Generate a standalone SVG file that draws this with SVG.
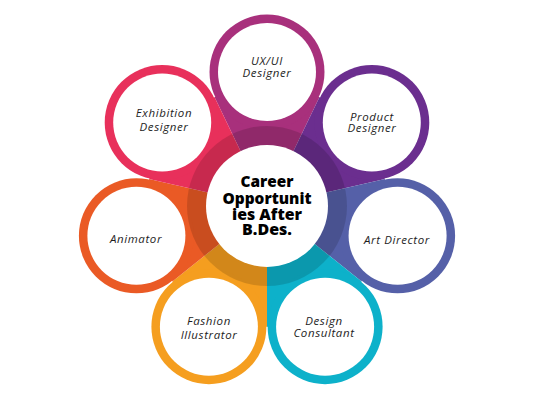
<svg xmlns="http://www.w3.org/2000/svg" width="534" height="400" viewBox="0 0 534 400">
<style>
.lbl{font-family:"Open Sans","Liberation Sans",sans-serif;font-style:italic;font-size:11.5px;letter-spacing:0.6px;fill:#1e1e1e;text-anchor:middle}
.hub{font-family:"Open Sans","Liberation Sans",sans-serif;font-weight:800;font-size:15px;fill:#000;text-anchor:middle}
.inner{fill:#fff}
</style>
<rect width="534" height="400" fill="#fff"/>
<g id="petals">
<path d="M267,206 L214.5,97 L319.5,97 Z" fill="#a8307c"/>
<path d="M267,206 L319.5,97 L385,179.1 Z" fill="#6b2e8f"/>
<path d="M267,206 L385,179.1 L361.6,281.4 Z" fill="#5560a8"/>
<path d="M267,206 L361.6,281.4 L267,327 Z" fill="#0db1ca"/>
<path d="M267,206 L267,327 L172.4,281.4 Z" fill="#f59e1f"/>
<path d="M267,206 L172.4,281.4 L149,179.1 Z" fill="#ea5a25"/>
<path d="M267,206 L149,179.1 L214.5,97 Z" fill="#e8305b"/>
</g>
<g id="node-uxui">
<circle cx="267" cy="72" r="57.5" fill="#a8307c"/>
<circle class="inner" cx="267" cy="72" r="49"/>
<text class="lbl" x="267" y="65">UX/UI</text>
<text class="lbl" x="267" y="77">Designer</text>
</g>
<g id="node-product">
<circle cx="371.8" cy="122.5" r="57.5" fill="#6b2e8f"/>
<circle class="inner" cx="371.8" cy="122.5" r="49"/>
<text class="lbl" x="372" y="120.5">Product</text>
<text class="lbl" x="372" y="132">Designer</text>
</g>
<g id="node-art">
<circle cx="397.6" cy="235.8" r="57.5" fill="#5560a8"/>
<circle class="inner" cx="397.6" cy="235.8" r="49"/>
<text class="lbl" x="397" y="244">Art Director</text>
</g>
<g id="node-design">
<circle cx="325.1" cy="326.7" r="57.5" fill="#0db1ca"/>
<circle class="inner" cx="325.1" cy="326.7" r="49"/>
<text class="lbl" x="324" y="324.5">Design</text>
<text class="lbl" x="324" y="337">Consultant</text>
</g>
<g id="node-fashion">
<circle cx="208.9" cy="326.7" r="57.5" fill="#f59e1f"/>
<circle class="inner" cx="208.9" cy="326.7" r="49"/>
<text class="lbl" x="209" y="325">Fashion</text>
<text class="lbl" x="209" y="339">Illustrator</text>
</g>
<g id="node-animator">
<circle cx="136.4" cy="235.8" r="57.5" fill="#ea5a25"/>
<circle class="inner" cx="136.4" cy="235.8" r="49"/>
<text class="lbl" x="136" y="243">Animator</text>
</g>
<g id="node-exhibition">
<circle cx="162.2" cy="122.5" r="57.5" fill="#e8305b"/>
<circle class="inner" cx="162.2" cy="122.5" r="49"/>
<text class="lbl" x="164" y="117">Exhibition</text>
<text class="lbl" x="164" y="131">Designer</text>
</g>
<g id="node-hub">
<circle cx="267" cy="206" r="80" fill="#000" fill-opacity="0.14"/>
<circle cx="267" cy="206" r="61" fill="#fff"/>
<text class="hub" x="267" y="187" textLength="53" lengthAdjust="spacingAndGlyphs">Career</text>
<text class="hub" x="267" y="204" textLength="89" lengthAdjust="spacingAndGlyphs">Opportunit</text>
<text class="hub" x="267" y="219.5" textLength="70" lengthAdjust="spacingAndGlyphs">ies After</text>
<text class="hub" x="267" y="234.5" textLength="50" lengthAdjust="spacingAndGlyphs">B.Des.</text>
</g>
</svg>
